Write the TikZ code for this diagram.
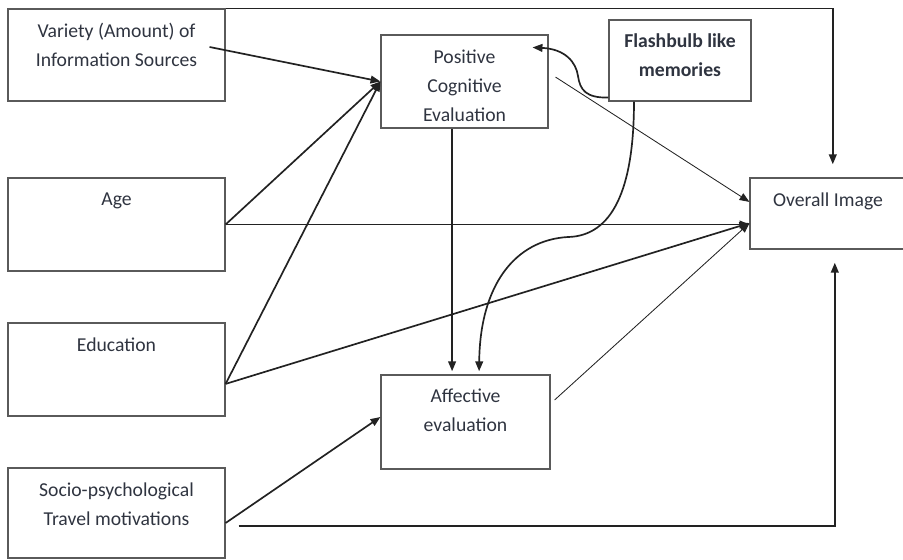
\documentclass[tikz,border=0pt]{standalone}
\usepackage{fontspec}
\setmainfont{Carlito}
\usetikzlibrary{positioning,arrows.meta}
\definecolor{inkgray}{HTML}{2F3440}
\definecolor{boxgray}{HTML}{5A5A5A}
\definecolor{wiregray}{HTML}{222222}

\begin{document}
\begin{tikzpicture}[x=.025cm,y=-.025cm,
  box/.style={draw=boxgray,line width=.8pt,inner sep=0pt},
  lbl/.style={inner sep=0pt,align=center,text=inkgray,font=\fontsize{14}{20.5}\selectfont},
  wire/.style={draw=wiregray,line width=1.2pt,-{Triangle[length=7pt,width=5.5pt]}},
  thinwire/.style={wire,line width=.6pt}]
\useasboundingbox (0,0) rectangle (903,560);

% boxes
\node[box,minimum width=5.425cm,minimum height=2.3cm] (var) at (116.5,55) {};
\node[box,minimum width=5.425cm,minimum height=2.325cm] (age) at (116.5,224.5) {};
\node[box,minimum width=5.425cm,minimum height=2.325cm] (edu) at (116.5,369.5) {};
\node[box,minimum width=5.425cm,minimum height=2.25cm] (socio) at (116.5,513) {};
\node[box,minimum width=4.175cm,minimum height=2.325cm] (pce) at (464.5,81.5) {};
\node[box,minimum width=3.55cm,minimum height=2.025cm] (flash) at (680,60.5) {};
\node[box,minimum width=3.9cm,minimum height=1.775cm] (overall) at (828,213.5) {};
\node[box,minimum width=4.225cm,minimum height=2.35cm] (aff) at (465.5,422) {};

\node[lbl,below=.36cm of var.north] (varlbl) {Variety (Amount) of\\Information Sources};
\node[lbl,below=.38cm of age.north] (agelbl) {Age};
\node[lbl,below=.38cm of edu.north] (edulbl) {Education};
\node[lbl,below=.38cm of socio.north] (sociolbl) {Socio-psychological\\Travel motivations};
\node[lbl,below=.38cm of pce.north] (pcelbl) {Positive\\Cognitive\\Evaluation};
\node[lbl,below=.36cm of flash.north,font=\fontsize{14}{20.5}\selectfont\bfseries] (flashlbl) {Flashbulb like\\memories};
\node[lbl,below=.38cm of overall.north] (overalllbl) {Overall Image};
\node[lbl,below=.36cm of aff.north] (afflbl) {Affective\\evaluation};

\coordinate (topin) at ([xshift=.12cm,yshift=.33cm]overall.north);
\coordinate (botin) at ([xshift=.17cm,yshift=-.33cm]overall.south);

% connectors
\draw[wire] ([xshift=-.4cm,yshift=.2cm]var.east) -- (pce.west);
\draw[wire] (age.east) -- (pce.west);
\draw[wire] ([yshift=-.36cm]edu.east) -- (pce.west);
\draw[wire] (age.east) -- (age.east -| overall.west);
\draw[wire] ([yshift=-.36cm]edu.east) -- ([yshift=-.24cm]overall.west);
\draw[wire] ([yshift=-.25cm]socio.east) -- ([yshift=.125cm]aff.west);
\draw[wire] ([xshift=-.31cm]pce.south) -- ([xshift=-.31cm,yshift=.08cm]pce.south |- aff.north);
\draw[thinwire] ([xshift=.175cm,yshift=.11cm]pce.east) -- ([yshift=.29cm]overall.west);
\draw[thinwire] ([xshift=.1cm,yshift=.55cm]aff.east) -- ([yshift=-.24cm]overall.west);
\draw[wire] ([yshift=.1cm]flash.south west) .. controls (586,98) and (580,90) .. (578,76)
  .. controls (576,62) and (565,49) .. ([xshift=-.4cm,yshift=-.325cm]pce.north east);
\draw[wire] ([xshift=-1.15cm]flash.south) .. controls (634,190) and (612,236) .. (568,237)
  .. controls (515,240) and (480,285) .. ([xshift=.34cm,yshift=.08cm]aff.north);
\draw[wire] (var.north east) -| (topin);
\draw[wire] ([xshift=.325cm,yshift=-.325cm]socio.east) -| (botin);
\end{tikzpicture}
\end{document}
